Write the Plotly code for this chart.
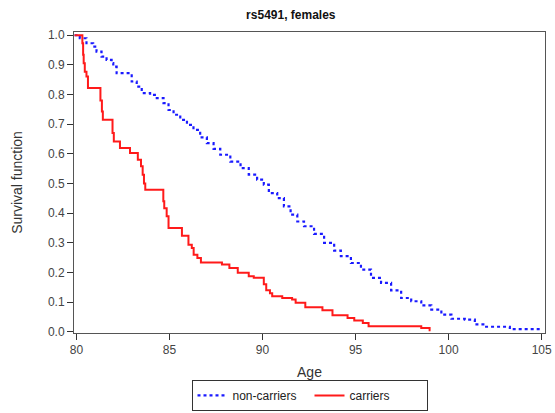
import plotly.graph_objects as go

# Non-carriers (blue dotted) Kaplan-Meier estimates
nc_age = [79.9, 80.18, 80.54, 80.90, 81.08, 81.35, 81.62, 81.89, 81.98, 82.16, 82.97,
          83.24, 83.51, 83.96, 84.32, 84.68, 84.95, 85.22, 85.58, 85.94, 86.29, 86.65,
          87.01, 87.37, 87.73, 88.27, 88.82, 89.26, 89.71, 90.07, 90.34, 90.79, 91.15,
          91.51, 91.87, 92.23, 92.77, 93.31, 93.85, 94.21, 94.75, 95.29, 95.83, 96.37,
          96.91, 97.45, 97.99, 98.53, 99.07, 99.61, 100.15, 100.87, 101.41, 101.95,
          103.29, 105.0]
nc_surv = [1.0, 0.990, 0.973, 0.962, 0.945, 0.928, 0.917, 0.906, 0.894, 0.872, 0.844,
           0.827, 0.805, 0.799, 0.788, 0.771, 0.748, 0.732, 0.715, 0.698, 0.681, 0.656,
           0.636, 0.617, 0.597, 0.574, 0.552, 0.530, 0.513, 0.496, 0.468, 0.451, 0.423,
           0.395, 0.372, 0.356, 0.330, 0.300, 0.274, 0.255, 0.232, 0.210, 0.182, 0.165,
           0.140, 0.114, 0.103, 0.089, 0.075, 0.058, 0.044, 0.041, 0.025, 0.017,
           0.009, 0.009]

# Carriers (red solid)
c_age = [79.9, 80.32, 80.36, 80.39, 80.45, 80.54, 80.62, 81.29, 81.37, 81.42, 81.94,
         82.01, 82.34, 82.88, 83.30, 83.47, 83.56, 83.63, 83.70, 84.67, 84.72, 84.85,
         84.95, 85.67, 86.02, 86.20, 86.30, 86.50, 86.69, 87.82, 88.22, 88.67, 89.26,
         89.53, 90.07, 90.20, 90.40, 90.52, 91.06, 91.59, 91.78, 92.30, 93.22, 93.76,
         94.57, 94.93, 95.39, 95.70, 98.53, 98.98, 99.03]
c_surv = [1.0, 0.973, 0.934, 0.906, 0.877, 0.861, 0.822, 0.780, 0.743, 0.715, 0.670,
          0.642, 0.620, 0.603, 0.580, 0.558, 0.530, 0.500, 0.479, 0.440, 0.417, 0.390,
          0.350, 0.324, 0.294, 0.283, 0.260, 0.249, 0.234, 0.227, 0.215, 0.199, 0.187,
          0.182, 0.160, 0.140, 0.130, 0.120, 0.114, 0.109, 0.098, 0.083, 0.073, 0.056,
          0.047, 0.038, 0.030, 0.019, 0.013, 0.005, 0.005]

x_ticks = [80, 85, 90, 95, 100, 105]
y_ticks = [0.0, 0.1, 0.2, 0.3, 0.4, 0.5, 0.6, 0.7, 0.8, 0.9, 1.0]

fig = go.Figure()
fig.add_trace(go.Scatter(x=nc_age, y=nc_surv, mode="lines", name="non-carriers",
                         line=dict(color="#1a1aff", width=2.2, dash="dot", shape="hv")))
fig.add_trace(go.Scatter(x=c_age, y=c_surv, mode="lines", name="carriers",
                         line=dict(color="#ff1a1a", width=2, shape="hv")))

font = "Liberation Sans, Arial, sans-serif"
fig.update_layout(
    width=555, height=413,
    margin=dict(l=74, r=10, t=32, b=80, autoexpand=False),
    paper_bgcolor="white", plot_bgcolor="white",
    font=dict(family=font, size=12, color="#333333"),
    title=dict(text="<b>rs5491, females</b>", x=0.524, xanchor="center", y=0.964,
               yanchor="middle", font=dict(family=font, size=12, color="#111111")),
    showlegend=True,
    legend=dict(orientation="h", x=0.5, xanchor="center", xref="paper",
                y=0.005, yanchor="bottom", yref="container",
                bordercolor="#333333", borderwidth=1, font=dict(size=12, color="#222222"),
                itemwidth=30, entrywidth=72, valign="middle"),
    xaxis=dict(range=[79.87, 105.18], tickvals=x_ticks, ticks="outside", ticklen=6,
               tickcolor="#333333", showline=True, linecolor="#555555", linewidth=1,
               mirror=True, showgrid=False, zeroline=False, automargin=False,
               title=dict(text="Age", standoff=12), tickfont=dict(size=12, color="#444444")),
    yaxis=dict(range=[-0.004, 1.011], tickvals=y_ticks, tickformat=".1f", ticks="outside",
               ticklen=6, tickcolor="#333333", showline=True, linecolor="#555555",
               linewidth=1, mirror=True, showgrid=False, zeroline=False, automargin=False,
               title=dict(text="Survival function", standoff=22),
               tickfont=dict(size=12, color="#444444")),
)

# remove the default 8px page margin so the figure fills the window exactly
fig.write_html("out.html", config={"displayModeBar": False},
               post_script="document.body.style.margin='0';")
